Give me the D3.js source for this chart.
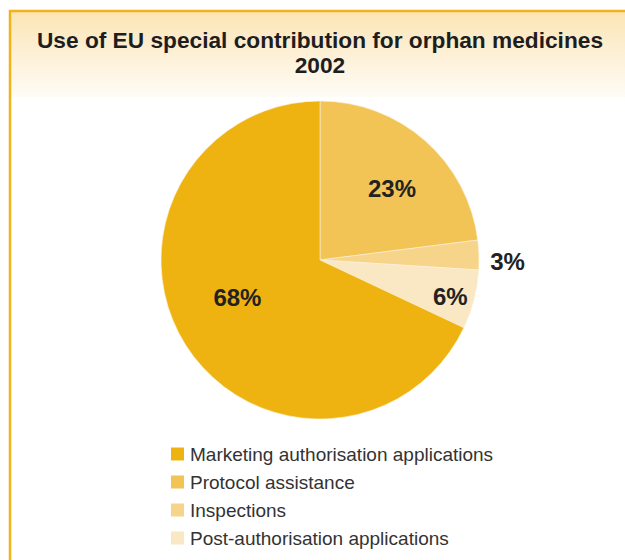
<!DOCTYPE html>
<html>
<head>
<meta charset="utf-8">
<script src="https://cdn.jsdelivr.net/npm/d3@7"></script>
<style>
  html, body { margin: 0; padding: 0; background: #fff; }
  svg { display: block; }
</style>
</head>
<body>
<svg id="chart" width="625" height="560"></svg>
<script>
// Share of the EU special contribution for orphan medicines, 2002
const categories = [
  "Protocol assistance",
  "Inspections",
  "Post-authorisation applications",
  "Marketing authorisation applications"
];
const shares = [23, 3, 6, 68];
const sliceColors = ["#f2c455", "#f6d489", "#fae7c3", "#efb311"];
const legendOrder = [
  "Marketing authorisation applications",
  "Protocol assistance",
  "Inspections",
  "Post-authorisation applications"
];
const titleLines = ["Use of EU special contribution for orphan medicines", "2002"];

const W = 625, H = 560;
const cx = 320, cy = 260, radius = 159;
const frameColor = "#f0b41a";
const font = "'Liberation Sans', Arial, Helvetica, sans-serif";

const svg = d3.select("#chart");

// Panel background: soft yellow band behind the title
const defs = svg.append("defs");
const grad = defs.append("linearGradient")
  .attr("id", "titleBand").attr("x1", 0).attr("y1", 0).attr("x2", 0).attr("y2", 1);
grad.append("stop").attr("offset", "0%").attr("stop-color", "#fce5b4");
grad.append("stop").attr("offset", "50%").attr("stop-color", "#fdf0d6");
grad.append("stop").attr("offset", "100%").attr("stop-color", "#fefcf6");

svg.append("rect").attr("x", 10).attr("y", 11).attr("width", W - 10).attr("height", 86)
  .attr("fill", "url(#titleBand)");

// Frame: top and left edges of the panel
svg.append("path")
  .attr("d", `M10,${H} L10,11 L${W},11`)
  .attr("fill", "none").attr("stroke", frameColor).attr("stroke-width", 2.5);

// Title
svg.append("g").selectAll("text").data(titleLines).join("text")
  .attr("x", 320).attr("y", (d, i) => 48 + i * 25)
  .attr("text-anchor", "middle")
  .attr("font-family", font).attr("font-weight", "bold").attr("font-size", 22.7)
  .attr("fill", "#1e1e1e")
  .text(d => d);

// Pie
const pie = d3.pie().sort(null).value(d => d.value);
const arcs = pie(categories.map((c, i) => ({ name: c, value: shares[i], color: sliceColors[i] })));
const arc = d3.arc().innerRadius(0).outerRadius(radius);

const g = svg.append("g").attr("transform", `translate(${cx},${cy})`);
g.selectAll("path").data(arcs).join("path")
  .attr("d", arc)
  .attr("fill", d => d.data.color)
  .attr("stroke", "#fbf1dc").attr("stroke-width", 0.6);

// Value labels: placed along each slice's mid-angle (small angular nudge),
// inside for the larger slices and outside for the smallest one
const labelPlace = {
  "Protocol assistance": { r: 0.64, nudge: 3.6 },
  "Inspections": { r: 1.18, nudge: 2.1 },
  "Post-authorisation applications": { r: 0.85, nudge: 1.1 },
  "Marketing authorisation applications": { r: 0.57, nudge: 8.1 }
};
g.selectAll("text.val").data(arcs).join("text")
  .attr("class", "val")
  .attr("transform", d => {
    const p = labelPlace[d.data.name];
    const a = (d.startAngle + d.endAngle) / 2 + p.nudge * Math.PI / 180;
    const r = radius * p.r;
    return `translate(${Math.sin(a) * r},${-Math.cos(a) * r})`;
  })
  .attr("text-anchor", "middle").attr("dy", "0.36em")
  .attr("font-family", font).attr("font-weight", "bold").attr("font-size", 24)
  .attr("fill", "#222")
  .text(d => d.data.value + "%");

// Legend
const colorOf = {};
categories.forEach((c, i) => colorOf[c] = sliceColors[i]);
const legend = svg.append("g").attr("transform", "translate(171,454)");
const row = legend.selectAll("g").data(legendOrder).join("g")
  .attr("transform", (d, i) => `translate(0,${i * 28})`);
row.append("rect").attr("x", 0).attr("y", -6.5).attr("width", 13).attr("height", 13)
  .attr("fill", d => colorOf[d]);
row.append("text").attr("x", 19).attr("dy", "0.36em")
  .attr("font-family", font).attr("font-size", 19).attr("fill", "#333")
  .text(d => d);
</script>
</body>
</html>
